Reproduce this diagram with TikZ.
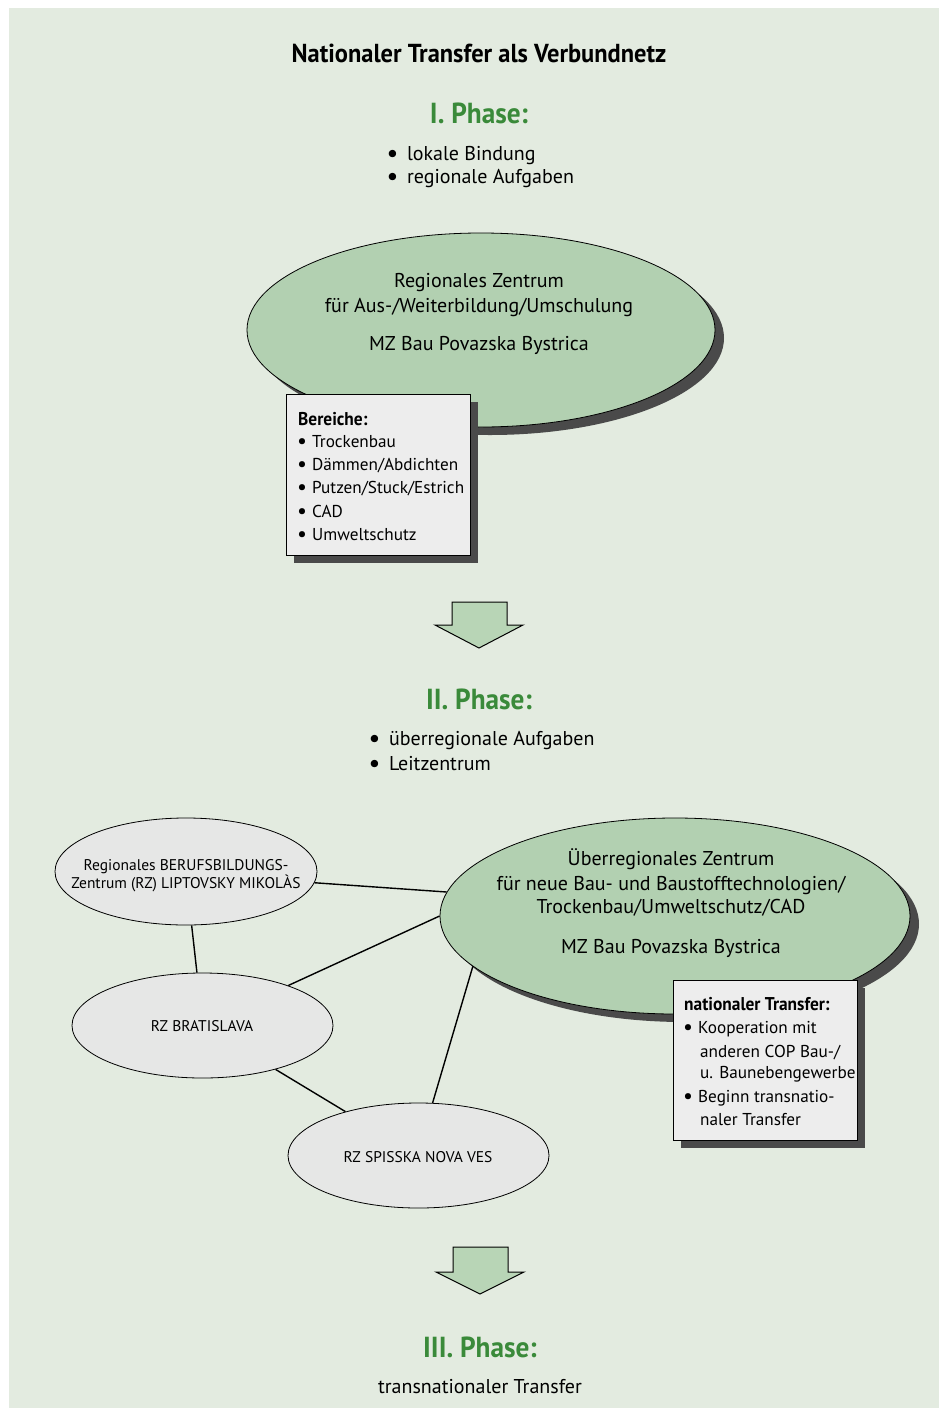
\documentclass[tikz,border=0pt]{standalone}
\usepackage{fontspec}
\setmainfont{PT Sans}
\newfontfamily\condfont{PT Sans}[FakeStretch=0.94]
\usetikzlibrary{shapes.geometric,shadows}
\definecolor{bg}{HTML}{E3EBE0}
\definecolor{ellgreen}{HTML}{B2D0B1}
\definecolor{ellgrey}{HTML}{E6E7E6}
\definecolor{boxgrey}{HTML}{EDEDED}
\definecolor{shadowc}{HTML}{4A4A4A}
\definecolor{phasegreen}{HTML}{3A8A3A}
\definecolor{arrowgreen}{HTML}{B8D5B6}
\newcommand{\bigbul}{\smash{\fontsize{24}{20}\selectfont\bfseries\raisebox{-1pt}{•}}\hspace{9pt}}
\newcommand{\boxbul}{\smash{\fontsize{22}{20}\selectfont\raisebox{-1pt}{•}}\hspace{5pt}}
\tikzset{
  greenell/.style={ellipse, draw=black, line width=0.8pt, fill=ellgreen, inner sep=0pt,
    drop shadow={shadow xshift=9pt, shadow yshift=-8pt, opacity=1, fill=shadowc}},
  greyell/.style={ellipse, draw=black, line width=0.8pt, fill=ellgrey, inner sep=0pt},
  infobox/.style={rectangle, draw=black, line width=0.8pt, fill=boxgrey, inner sep=0pt, anchor=north west,
    drop shadow={shadow xshift=8pt, shadow yshift=-8pt, opacity=1, fill=shadowc}},
  titletxt/.style={anchor=base, inner sep=0pt, font=\condfont\bfseries\fontsize{26}{28}\selectfont},
  phasetxt/.style={anchor=base, inner sep=0pt, text=phasegreen, font=\condfont\bfseries\fontsize{29}{30}\selectfont},
  bodytxt/.style={anchor=base, inner sep=0pt, font=\fontsize{20}{24}\selectfont},
  bodyleft/.style={anchor=base west, inner sep=0pt, font=\fontsize{20}{24}\selectfont},
  boxtxt/.style={anchor=base west, inner sep=0pt, font=\fontsize{17.2}{20}\selectfont},
  boxhead/.style={anchor=base west, inner sep=0pt, font=\condfont\bfseries\fontsize{18.5}{20}\selectfont},
  smalltxt/.style={anchor=base, inner sep=0pt, font=\fontsize{15.5}{18}\selectfont},
  link/.style={draw=black, line width=1.4pt},
  bigarrow/.style={draw=black, line width=1pt, fill=arrowgreen, line join=miter}
}
\begin{document}
\begin{tikzpicture}[x=1pt,y=-1pt]
\useasboundingbox (0,0) rectangle (939,1408);
\fill[white] (0,0) rectangle (939,1408);
\fill[bg] (9,8) rectangle (939,1408);

% title and phase I
\node[titletxt] (title) at (479,62) {Nationaler Transfer als Verbundnetz};
\node[phasetxt] (ph1) at (479,123) {I. Phase:};
\node[bodyleft] (t11) at (387,160) {\bigbul lokale Bindung};
\node[bodyleft] (t12) at (387,183) {\bigbul regionale Aufgaben};

% regional centre
\node[greenell, minimum width=468, minimum height=194] (reg) at (481,330) {};
\node[bodytxt] (reg1) at (479,287) {Regionales Zentrum};
\node[bodytxt] (reg2) at (479,312) {für Aus-/Weiterbildung/Umschulung};
\node[bodytxt] (reg3) at (479,350) {MZ Bau Povazska Bystrica};

\node[infobox, minimum width=184, minimum height=161] (box1) at (286,394) {};
\node[boxhead] (bh1) at (298,425) {Bereiche:};
\node[boxtxt] (bx1) at (297,447) {\boxbul Trockenbau};
\node[boxtxt] (bx2) at (297,470) {\boxbul Dämmen/Abdichten};
\node[boxtxt] (bx3) at (297,493) {\boxbul Putzen/Stuck/Estrich};
\node[boxtxt] (bx4) at (297,517) {\boxbul CAD};
\node[boxtxt] (bx5) at (297,540) {\boxbul Umweltschutz};

% arrow 1
\draw[bigarrow] (452,602) -- (507,602) -- (507,625) -- (523,625) -- (479,648) -- (435,625) -- (452,625) -- cycle;

% phase II
\node[phasetxt] (ph2) at (479,709) {II. Phase:};
\node[bodyleft] (t21) at (369,745) {\bigbul überregionale Aufgaben};
\node[bodyleft] (t22) at (369,770) {\bigbul Leitzentrum};

% network
\node[greyell, minimum width=262, minimum height=107] (lip) at (186,871.5) {};
\node[smalltxt] (lip1) at (186,870) {Regionales BERUFSBILDUNGS-};
\node[smalltxt] (lip2) at (186,888) {Zentrum (RZ) LIPTOVSKY MIKOLÀS};

\node[greyell, minimum width=261, minimum height=105] (bra) at (202.5,1025.5) {};
\node[smalltxt] (bra1) at (202,1031) {RZ BRATISLAVA};

\node[greyell, minimum width=261, minimum height=105] (spi) at (418.5,1155.5) {};
\node[smalltxt] (spi1) at (418,1162) {RZ SPISSKA NOVA VES};

\node[greenell, minimum width=470, minimum height=196] (ueb) at (675,916) {};
\node[bodytxt] (ueb1) at (671,865) {Überregionales Zentrum};
\node[bodytxt] (ueb2) at (671,890) {für neue Bau- und Baustofftechnologien/};
\node[bodytxt] (ueb3) at (671,913) {Trockenbau/Umweltschutz/CAD};
\node[bodytxt] (ueb4) at (671,953) {MZ Bau Povazska Bystrica};

\draw[link] (lip.-5) -- (ueb.174);
\draw[link] (lip.-84) -- (bra.96);
\draw[link] (bra.25) -- (ueb.180);
\draw[link] (bra.-31) -- (spi.149);
\draw[link] (spi.75) -- (ueb.194);

\node[infobox, minimum width=184, minimum height=160] (box2) at (673,980) {};
\node[boxhead] (bh2) at (684,1010) {nationaler Transfer:};
\node[boxtxt] (by1) at (683,1033) {\boxbul Kooperation mit};
\node[boxtxt] (by2) at (700,1057) {anderen COP Bau-/};
\node[boxtxt] (by3) at (700,1078) {u. Baunebengewerbe};
\node[boxtxt] (by4) at (683,1102) {\boxbul Beginn transnatio-};
\node[boxtxt] (by5) at (700,1125) {naler Transfer};

% arrow 2
\draw[bigarrow] (453,1247) -- (508,1247) -- (508,1272) -- (524,1272) -- (480,1294) -- (436,1272) -- (453,1272) -- cycle;

% phase III
\node[phasetxt] (ph3) at (480,1357) {III. Phase:};
\node[bodytxt] (t3) at (480,1393) {transnationaler Transfer};
\end{tikzpicture}
\end{document}
